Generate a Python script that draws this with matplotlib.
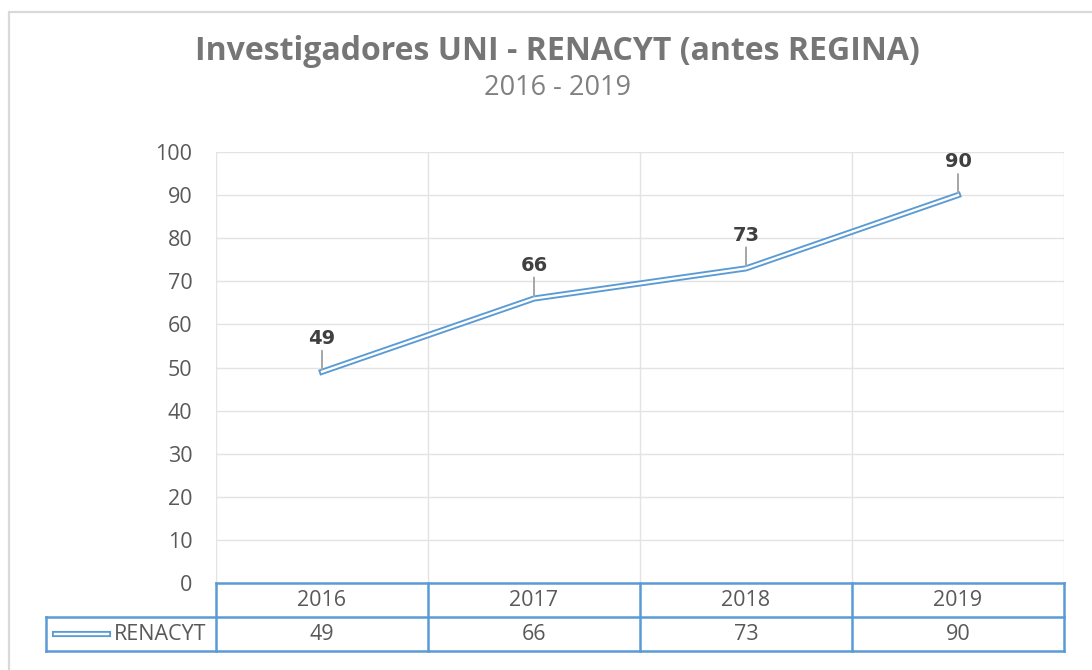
import matplotlib.pyplot as plt
from matplotlib.lines import Line2D
from matplotlib.patches import Rectangle

years = ['2016', '2017', '2018', '2019']
renacyt = [49, 66, 73, 90]
y_ticks = list(range(0, 101, 10))

W, H = 1092, 670
BLUE = '#5B9BD5'
GRID = '#E3E3E3'
TXT = '#595959'

plt.rcParams['font.family'] = ['Open Sans', 'DejaVu Sans']

fig = plt.figure(figsize=(W / 100, H / 100), dpi=100)


def fx(px):
    return px / W


def fy(py):
    return 1 - py / H


# outer chart frame
fig.patches.append(Rectangle((fx(9), fy(700)), fx(1200), fy(12) - fy(700),
                             transform=fig.transFigure, fill=False,
                             edgecolor='#D9D9D9', linewidth=1.6))

left, right, top, bottom = 216, 1064, 152, 583
ax = fig.add_axes([fx(left), fy(bottom), fx(right - left), fy(top) - fy(bottom)])
n = len(years)
xs = [i + 0.5 for i in range(n)]
ax.set_xlim(0, n)
ax.set_ylim(0, 100)
ax.set_yticks(y_ticks)
ax.set_xticks(range(n + 1))
ax.set_xticklabels([])
ax.tick_params(axis='both', length=0)
ax.tick_params(axis='y', labelsize=15.5, labelcolor=TXT, pad=17)
ax.grid(True, color=GRID, linewidth=1)
for s in ax.spines.values():
    s.set_visible(False)

# double line: thick blue with a thin white core
ax.plot(xs, renacyt, color=BLUE, linewidth=4.4, solid_joinstyle='miter', zorder=3)
ax.plot(xs, renacyt, color='white', linewidth=1.7, solid_joinstyle='miter', zorder=4)

for x, v in zip(xs, renacyt):
    ax.annotate(str(v), xy=(x, v), xytext=(0, 24), textcoords='offset points',
                ha='center', va='center', fontsize=14, fontweight='bold',
                color='#404040', family=['DejaVu Sans'],
                arrowprops=dict(arrowstyle='-', color='#A6A6A6', lw=1.4,
                                shrinkA=0, shrinkB=1.5))

fig.text(fx(557), fy(52), 'Investigadores UNI - RENACYT (antes REGINA)', ha='center',
         va='center', fontsize=23, fontweight='bold', color='#767676')
fig.text(fx(557), fy(88), '2016 - 2019', ha='center', va='center', fontsize=19.5,
         color='#808080')

# data table under the plot
row1, row2, row3 = 583, 617, 651
cw = (right - left) / n


def hline(x0, x1, y):
    fig.add_artist(Line2D([fx(x0), fx(x1)], [fy(y), fy(y)], color=BLUE, lw=1.8,
                          transform=fig.transFigure))


def vline(x, y0, y1):
    fig.add_artist(Line2D([fx(x), fx(x)], [fy(y0), fy(y1)], color=BLUE, lw=1.8,
                          transform=fig.transFigure))


hline(left, right, row1)
hline(46, right, row2)
hline(46, right, row3)
vline(46, row2, row3)
for i in range(n + 1):
    vline(left + i * cw, row1, row3)

for i, (yr, v) in enumerate(zip(years, renacyt)):
    cx = left + (i + 0.5) * cw
    fig.text(fx(cx), fy((row1 + row2) / 2), yr, ha='center', va='center',
             fontsize=15.5, color=TXT)
    fig.text(fx(cx), fy((row2 + row3) / 2), str(v), ha='center', va='center',
             fontsize=15.5, color=TXT)

ly = (row2 + row3) / 2
fig.add_artist(Line2D([fx(55), fx(108)], [fy(ly), fy(ly)], color=BLUE, lw=4.4,
                      transform=fig.transFigure))
fig.add_artist(Line2D([fx(55), fx(108)], [fy(ly), fy(ly)], color='white', lw=1.7,
                      transform=fig.transFigure))
fig.text(fx(114), fy(ly), 'RENACYT', ha='left', va='center', fontsize=15.5, color=TXT)

fig.savefig('out.png', dpi=100)
